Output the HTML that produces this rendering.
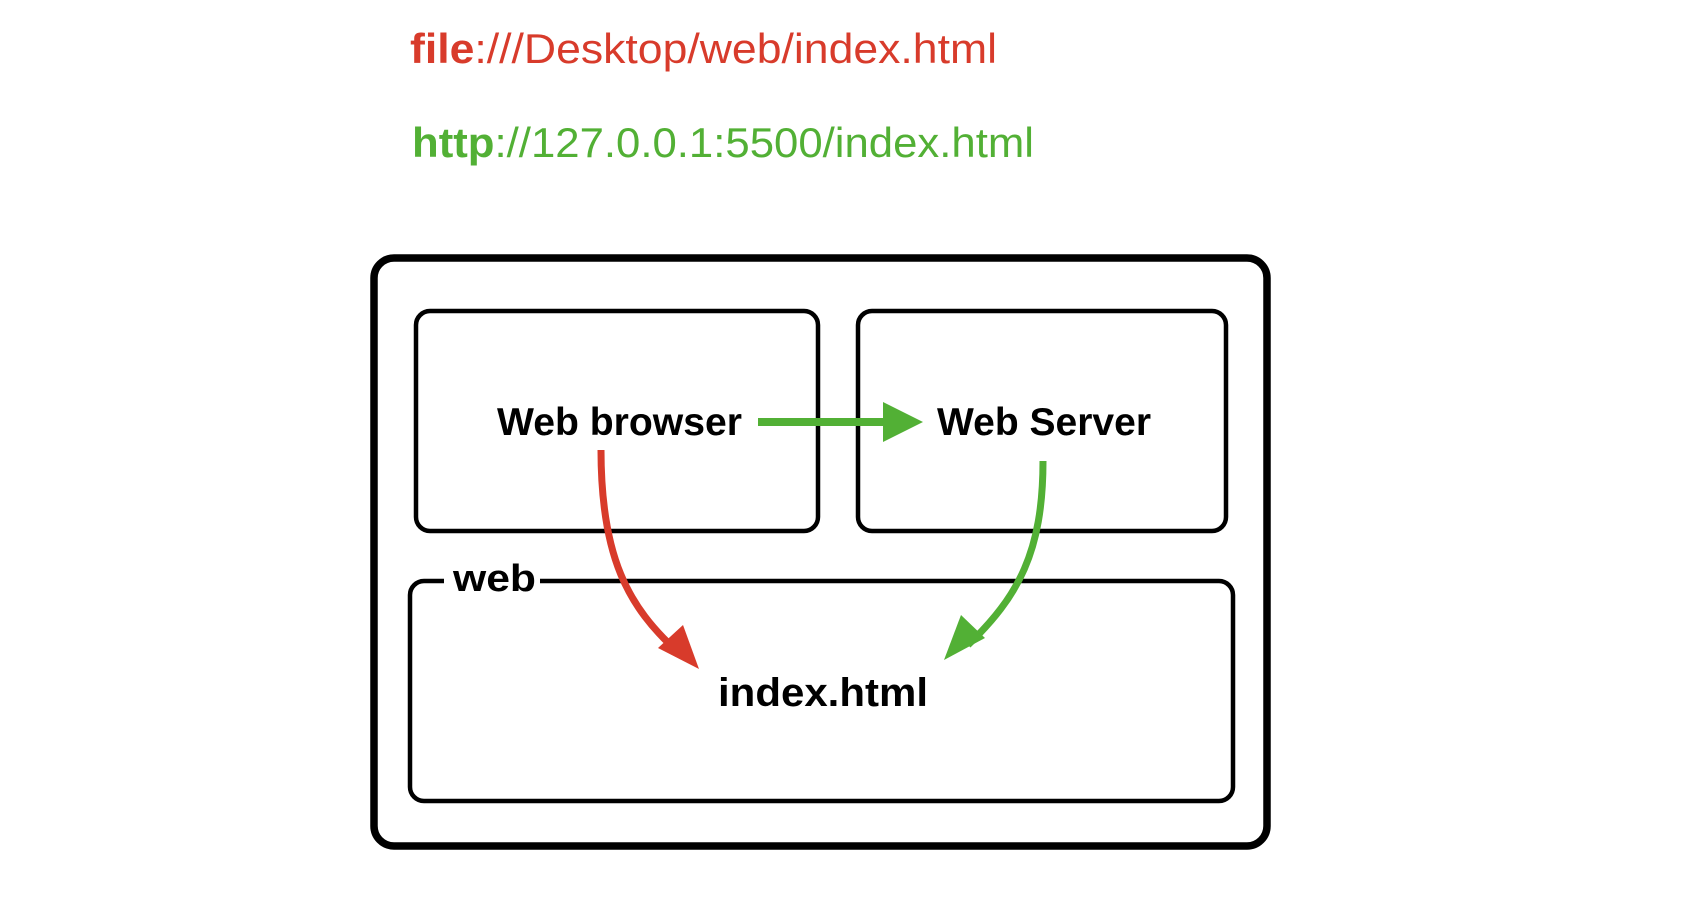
<!DOCTYPE html>
<html><head><meta charset="utf-8"><style>
html,body{margin:0;padding:0;background:#fff;width:1684px;height:918px;overflow:hidden}
svg{display:block}
</style></head><body>
<svg width="1684" height="918" viewBox="0 0 1684 918" xmlns="http://www.w3.org/2000/svg" font-family="Liberation Sans, Arial, sans-serif">
<text x="410" y="63" font-size="42" fill="#d83b2b" textLength="587" lengthAdjust="spacingAndGlyphs"><tspan font-weight="bold">file</tspan>:///Desktop/web/index.html</text>
<text x="412" y="157" font-size="42" fill="#52b035" textLength="622" lengthAdjust="spacingAndGlyphs"><tspan font-weight="bold">http</tspan>://127.0.0.1:5500/index.html</text>
<g transform="translate(-2,-3)">
<rect x="376" y="261" width="893" height="588" rx="20" fill="none" stroke="#000" stroke-width="7.5"/>
<rect x="418" y="314" width="402" height="220" rx="14" fill="none" stroke="#000" stroke-width="4.5"/>
<rect x="860" y="314" width="368" height="220" rx="14" fill="none" stroke="#000" stroke-width="4.5"/>
<rect x="412" y="584" width="823" height="220" rx="14" fill="none" stroke="#000" stroke-width="4.5"/>
<rect x="446" y="570" width="96" height="28" fill="#fff"/>
<text x="455" y="594" font-size="38" font-weight="bold" fill="#000" textLength="83" lengthAdjust="spacingAndGlyphs">web</text>
<text x="499" y="438" font-size="39" font-weight="bold" fill="#000" textLength="245" lengthAdjust="spacingAndGlyphs">Web browser</text>
<text x="939" y="438" font-size="39" font-weight="bold" fill="#000" textLength="214" lengthAdjust="spacingAndGlyphs">Web Server</text>
<text x="720" y="709" font-size="40" font-weight="bold" fill="#000" textLength="210" lengthAdjust="spacingAndGlyphs">index.html</text>
<line x1="760" y1="425" x2="890" y2="425" stroke="#52b035" stroke-width="8"/>
<polygon points="885,405 925,425 885,445" fill="#52b035"/>
<path d="M603,453 C603,560 630,610 680,655" fill="none" stroke="#d83b2b" stroke-width="7"/>
<polygon points="701,672 660,651 685,628" fill="#d83b2b"/>
<path d="M1045,464 C1045,555 1020,600 970,648" fill="none" stroke="#52b035" stroke-width="7"/>
<polygon points="946,663 963,618 987,641" fill="#52b035"/>
</g>
</svg>
</body></html>
